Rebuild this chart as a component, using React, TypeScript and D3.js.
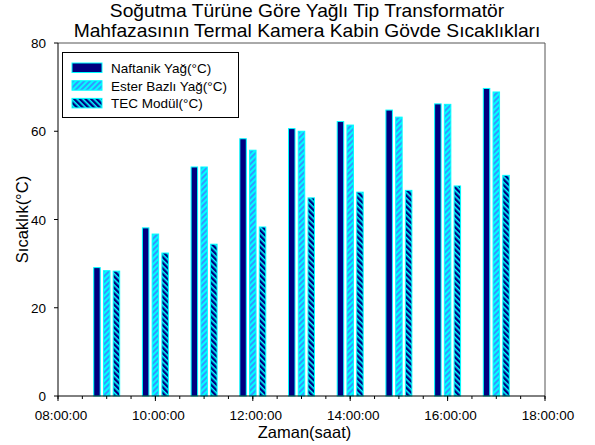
import * as d3 from "d3"

const hours = [9, 10, 11, 12, 13, 14, 15, 16, 17]
const naftanik = [29.1, 38.1, 51.9, 58.3, 60.6, 62.2, 64.8, 66.2, 69.7]
const ester = [28.4, 36.7, 51.9, 55.7, 60.0, 61.4, 63.2, 66.1, 68.9]
const tec = [28.3, 32.4, 34.4, 38.3, 44.9, 46.2, 46.6, 47.6, 50.0]
const seriesNames = ["Naftanik Yağ(°C)", "Ester Bazlı Yağ(°C)", "TEC Modül(°C)"]
const yTicks = [0, 20, 40, 60, 80]

const W = 595
const H = 445
const margin = { top: 43, right: 50, bottom: 49, left: 58 }
const font = "'Liberation Sans', Arial, sans-serif"

const day = (h: number, m = 0) => new Date(2000, 0, 1, h, m)

export default function App() {
  const x = d3
    .scaleTime()
    .domain([day(8), day(18)])
    .range([margin.left, W - margin.right])
  const y = d3
    .scaleLinear()
    .domain([0, 80])
    .range([H - margin.bottom, margin.top])

  const fmt = d3.timeFormat("%H:%M:%S")
  const majorTicks = x.ticks(d3.timeHour.every(2)!)
  const minorTicks = x.ticks(d3.timeMinute.every(30)!)

  const fills = ["#000080", "url(#esterPat)", "url(#tecPat)"]
  const offsets = [-12, 0, 12] // minutes from the hour
  const barW = x(day(8, 8)) - x(day(8))
  const series = [naftanik, ester, tec]

  const x0 = margin.left
  const x1 = W - margin.right
  const yb = H - margin.bottom
  const yt = margin.top

  return (
    <svg
      width={W}
      height={H}
      style={{ position: "absolute", left: 0, top: 0, background: "#fff" }}
      fontFamily={font}
    >
      <defs>
        <pattern id="esterPat" patternUnits="userSpaceOnUse" width="4" height="4" patternTransform="rotate(45)">
          <rect width="4" height="4" fill="#00FFFF" />
          <rect width="2" height="4" fill="#3399FF" />
        </pattern>
        <pattern id="tecPat" patternUnits="userSpaceOnUse" width="4" height="4" patternTransform="rotate(-45)">
          <rect width="4" height="4" fill="#00FFFF" />
          <rect width="2.4" height="4" fill="#000080" />
        </pattern>
      </defs>

      {/* title, slightly stretched sideways like the original */}
      <g transform="translate(307,0) scale(1.1,1)">
        <text x={0} y={17} textAnchor="middle" fontSize={17.5} fill="#000">
          Soğutma Türüne Göre Yağlı Tip Transformatör
        </text>
        <text x={0} y={37} textAnchor="middle" fontSize={17.5} fill="#000">
          Mahfazasının Termal Kamera Kabin Gövde Sıcaklıkları
        </text>
      </g>

      {/* frame top/right */}
      <line x1={x0} x2={x1} y1={yt} y2={yt} stroke="#555" />
      <line x1={x1} x2={x1} y1={yt} y2={yb} stroke="#555" />

      {/* bars */}
      {series.map((vals, si) =>
        vals.map((v, i) => {
          const cx = x(day(hours[i], 0)) + (offsets[si] / 60) * (x(day(9)) - x(day(8)))
          return (
            <rect
              key={`${si}-${i}`}
              x={cx - barW / 2}
              y={y(v)}
              width={barW}
              height={yb - y(v)}
              fill={fills[si]}
              stroke="#00FFFF"
              strokeWidth={1}
            />
          )
        })
      )}

      {/* y axis */}
      <line x1={x0} x2={x0} y1={yt} y2={yb} stroke="#000" />
      {yTicks.map((t) => (
        <g key={t}>
          <line x1={x0 - 4} x2={x0} y1={y(t)} y2={y(t)} stroke="#000" />
          <text x={x0 - 12} y={y(t) + 5} textAnchor="end" fontSize={13.5} fill="#000">
            {t}
          </text>
        </g>
      ))}
      <text
        transform={`translate(28,${(yt + yb) / 2}) rotate(-90)`}
        textAnchor="middle"
        fontSize={16.5}
        fill="#000"
      >
        Sıcaklık(°C)
      </text>

      {/* x axis */}
      <line x1={x0} x2={x1} y1={yb} y2={yb} stroke="#000" />
      {minorTicks.map((t) => (
        <line key={+t} x1={x(t)} x2={x(t)} y1={yb} y2={yb + 3} stroke="#000" />
      ))}
      {majorTicks.map((t) => (
        <g key={+t}>
          <line x1={x(t)} x2={x(t)} y1={yb} y2={yb + 5} stroke="#000" />
          <text x={x(t) + 3} y={yb + 24} textAnchor="middle" fontSize={13.5} fill="#000">
            {fmt(t)}
          </text>
        </g>
      ))}
      <text x={(x0 + x1) / 2 + 3} y={yb + 42} textAnchor="middle" fontSize={16.5} fill="#000">
        Zaman(saat)
      </text>

      {/* legend */}
      <rect x={62.5} y={52.5} width={176} height={65} fill="#fff" stroke="#000" />
      {seriesNames.map((name, i) => (
        <g key={name} transform={`translate(72,${63 + i * 17.7})`}>
          <rect x={0} y={0} width={30} height={9.5} fill={fills[i]} stroke="#00FFFF" />
          <text x={39} y={10} fontSize={13.5} fill="#000">
            {name}
          </text>
        </g>
      ))}
    </svg>
  )
}
